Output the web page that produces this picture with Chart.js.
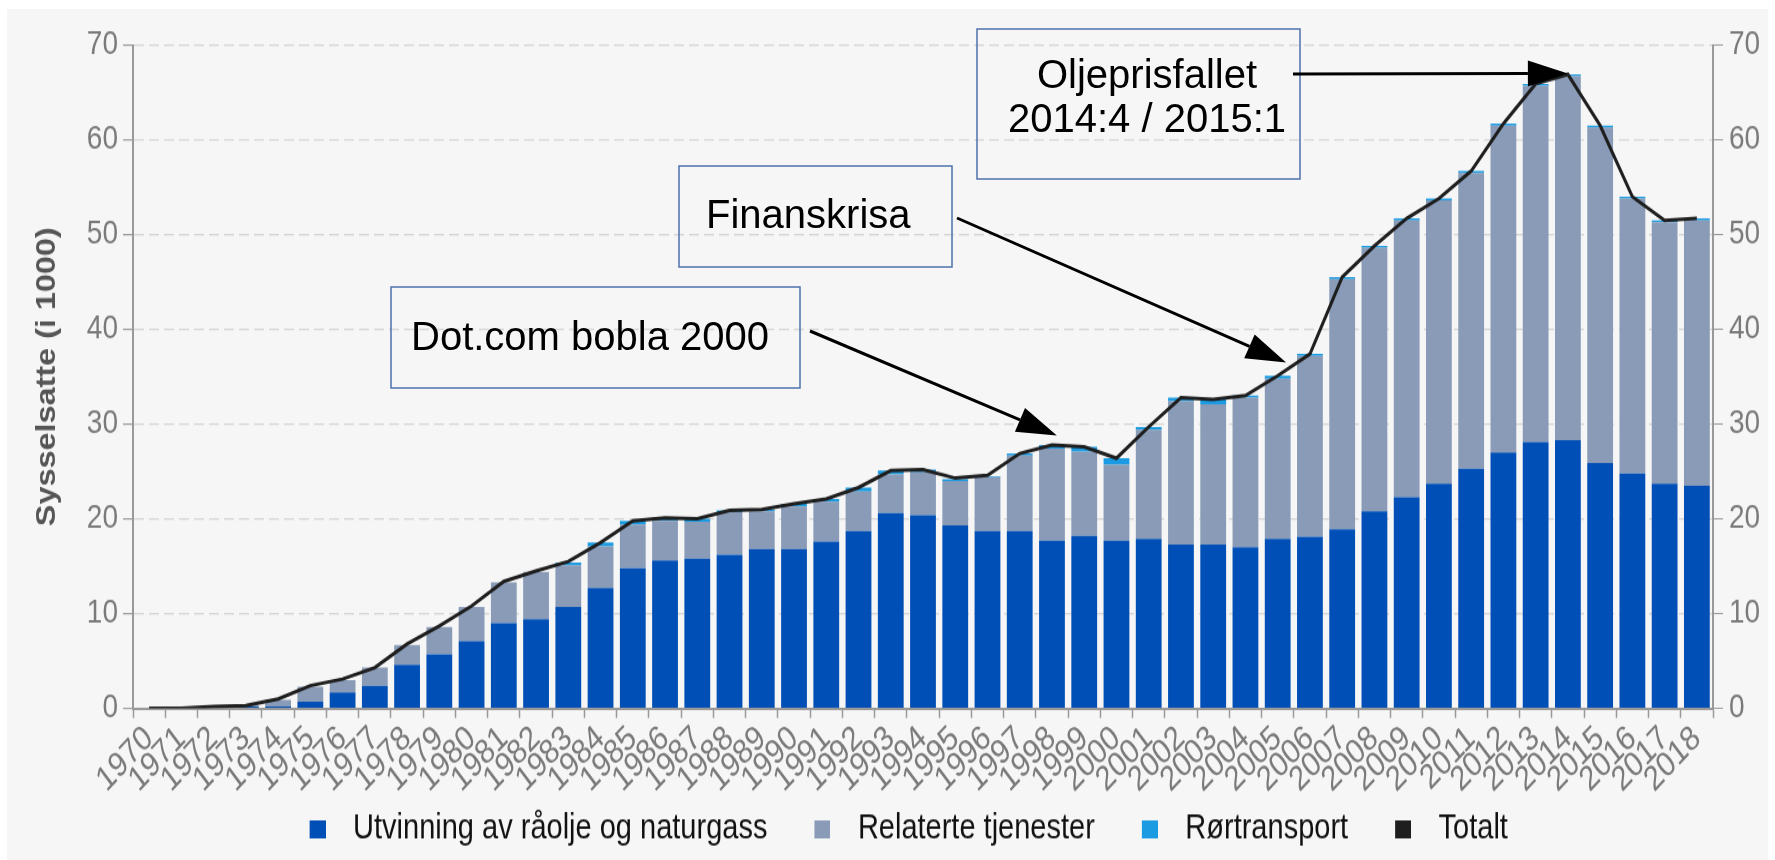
<!DOCTYPE html>
<html>
<head>
<meta charset="utf-8">
<script src="https://cdn.jsdelivr.net/npm/chart.js@4"></script>
<style>
  html, body { margin: 0; padding: 0; background: #fff; }
  #card { position: absolute; left: 7px; top: 9px; width: 1761px; height: 851px; background: #f6f6f6; }
  #chart_sysselsatte { position: absolute; left: 0; top: 0; width: 1775px !important; height: 860px !important; }
  #notes_layer { position: absolute; left: 0; top: 0; width: 1775px; height: 860px; pointer-events: none; }
</style>
</head>
<body>
<div id="card"></div>
<!-- grafen tegnes lavere og strekkes i høyden, som i originalbildet -->
<canvas id="chart_sysselsatte" width="1775" height="717"></canvas>
<canvas id="notes_layer" width="1775" height="860"></canvas>
<script>
const STRETCH = 860 / 717;

const years = [];
for (let y = 1970; y <= 2018; y++) years.push(String(y));

// sysselsatte i 1000
const utvinning = [0, 0, 0.2, 0.2, 0.2, 0.7, 1.7, 2.4, 4.6, 5.7, 7.1, 9.0, 9.4, 10.7, 12.7, 14.8, 15.6, 15.8, 16.2, 16.8,
  16.8, 17.6, 18.7, 20.6, 20.4, 19.3, 18.7, 18.7, 17.7, 18.2, 17.7, 17.9, 17.3, 17.3, 17.0, 17.9, 18.1, 18.9, 20.8, 22.3,
  23.7, 25.3, 27.0, 28.1, 28.3, 25.9, 24.8, 23.7, 23.5];
const relaterte = [0, 0, 0, 0.1, 0.7, 1.6, 1.3, 1.9, 2.1, 2.9, 3.6, 4.3, 5.0, 4.4, 4.4, 4.6, 4.2, 3.9, 4.5, 4.0,
  4.5, 4.2, 4.2, 4.1, 4.5, 4.7, 5.7, 8.0, 9.7, 8.9, 8.0, 11.5, 15.1, 14.8, 15.8, 16.9, 19.1, 26.4, 27.8, 29.2,
  29.9, 31.2, 34.5, 37.6, 38.4, 35.4, 29.0, 27.6, 28.0];
const roertransport = [0, 0, 0, 0, 0, 0, 0, 0, 0, 0, 0, 0, 0, 0.3, 0.4, 0.4, 0.3, 0.3, 0.2, 0.2,
  0.3, 0.3, 0.4, 0.4, 0.3, 0.2, 0.1, 0.2, 0.4, 0.5, 0.7, 0.3, 0.4, 0.5, 0.2, 0.3, 0.2, 0.2, 0.2, 0.2,
  0.2, 0.2, 0.2, 0.2, 0.2, 0.2, 0.2, 0.2, 0.2];
const totalt = [0, 0, 0.2, 0.3, 1.0, 2.4, 3.1, 4.3, 6.8, 8.7, 10.8, 13.4, 14.5, 15.5, 17.5, 19.8, 20.1, 20.0, 20.9, 21.0,
  21.6, 22.1, 23.3, 25.1, 25.2, 24.3, 24.6, 26.9, 27.8, 27.6, 26.4, 29.7, 32.8, 32.6, 33.0, 35.1, 37.4, 45.5, 48.8, 51.7,
  53.8, 56.7, 61.7, 65.9, 66.9, 61.5, 54.0, 51.5, 51.7];

const yTicks = [0, 10, 20, 30, 40, 50, 60, 70];

const FONT = "'Liberation Sans', Arial, sans-serif";

// tekstbokser med piler, pila peker på (kategori-indeks, verdi)
const notes = [
  { lines: ["Dot.com bobla 2000"], box: [391, 287, 800, 388], textX: 411, baselines: [350], align: "left",
    from: [810, 331], to: [28.15, 28.8] },
  { lines: ["Finanskrisa"], box: [679, 166, 952, 267], textX: 706, baselines: [228], align: "left",
    from: [957, 218], to: [35.26, 36.5] },
  { lines: ["Oljeprisfallet", "2014:4 / 2015:1"], box: [977, 29, 1300, 179], textX: 1147, baselines: [88, 132], align: "center",
    from: [1293, 74], to: [44, 67.0] },
];

// legend-ruter: liten flate med ruta helt til høyre
function legendSwatch(color) {
  const c = document.createElement("canvas");
  c.width = 44;
  c.height = 15;
  const g = c.getContext("2d");
  g.fillStyle = color;
  g.fillRect(28, 0, 16, 15);
  return c;
}

const notesPlugin = {
  id: "notes",
  afterDraw(chart) {
    const ctx = document.getElementById("notes_layer").getContext("2d");
    const xs = chart.scales.x;
    const ys = chart.scales.y;
    const step = xs.getPixelForValue(1) - xs.getPixelForValue(0);
    ctx.clearRect(0, 0, 1775, 860);
    notes.forEach((n) => {
      ctx.strokeStyle = "#4f72ad";
      ctx.lineWidth = 1.5;
      ctx.strokeRect(n.box[0], n.box[1], n.box[2] - n.box[0], n.box[3] - n.box[1]);
      ctx.fillStyle = "#000";
      ctx.font = "40px " + FONT;
      ctx.textAlign = n.align;
      ctx.textBaseline = "alphabetic";
      n.lines.forEach((t, i) => ctx.fillText(t, n.textX, n.baselines[i]));

      const tx = xs.getPixelForValue(0) + n.to[0] * step;
      const ty = ys.getPixelForValue(n.to[1]) * STRETCH;
      const ang = Math.atan2(ty - n.from[1], tx - n.from[0]);
      const len = 40, half = 13;
      const bx = tx - Math.cos(ang) * len;
      const by = ty - Math.sin(ang) * len;
      ctx.strokeStyle = "#000";
      ctx.lineWidth = 3;
      ctx.beginPath();
      ctx.moveTo(n.from[0], n.from[1]);
      ctx.lineTo(bx, by);
      ctx.stroke();
      ctx.fillStyle = "#000";
      ctx.beginPath();
      ctx.moveTo(tx, ty);
      ctx.lineTo(bx + Math.sin(ang) * half, by - Math.cos(ang) * half);
      ctx.lineTo(bx - Math.sin(ang) * half, by + Math.cos(ang) * half);
      ctx.closePath();
      ctx.fill();
    });
  },
};

var ctx = document.getElementById("chart_sysselsatte").getContext("2d");

var myChart = new Chart(ctx, {
  type: "bar",
  data: {
    labels: years,
    datasets: [
      {
        label: "Utvinning av råolje og naturgass",
        data: utvinning,
        backgroundColor: "#004fb6",
        pointStyle: legendSwatch("#004fb6"),
        barPercentage: 0.8,
        categoryPercentage: 1,
        order: 1,
      },
      {
        label: "Relaterte tjenester",
        data: relaterte,
        backgroundColor: "#8a9bb7",
        pointStyle: legendSwatch("#8a9bb7"),
        barPercentage: 0.8,
        categoryPercentage: 1,
        order: 1,
      },
      {
        label: "Rørtransport",
        data: roertransport,
        backgroundColor: "#1b9ce2",
        pointStyle: legendSwatch("#1b9ce2"),
        barPercentage: 0.8,
        categoryPercentage: 1,
        order: 1,
      },
      {
        type: "line",
        label: "Totalt",
        data: totalt,
        yAxisID: "y2",
        borderColor: "#1e1e1e",
        backgroundColor: "#1e1e1e",
        pointStyle: legendSwatch("#1e1e1e"),
        borderWidth: 3,
        pointRadius: 0,
        tension: 0,
        order: 0,
      },
    ],
  },
  plugins: [notesPlugin],
  options: {
    responsive: false,
    animation: false,
    devicePixelRatio: 1,
    layout: {
      padding: { left: 10, right: 8.5, top: 37.5, bottom: 1.2 },
    },
    plugins: {
      tooltip: { enabled: false },
      legend: {
        display: true,
        position: "bottom",
        labels: {
          sort: (a, b) => a.datasetIndex - b.datasetIndex,
          usePointStyle: true,
          pointStyleWidth: 70,
          boxHeight: 15,
          padding: 6,
          color: "#111",
          font: { family: FONT, size: 29 },
        },
      },
    },
    scales: {
      x: {
        stacked: true,
        grid: {
          display: true,
          drawOnChartArea: false,
          offset: true,
          tickLength: 8,
          tickColor: "#999",
          tickWidth: 1.5,
        },
        border: { color: "#999", width: 2 },
        ticks: {
          color: "#7a7a7a",
          font: { family: FONT, size: 29 },
          minRotation: 42,
          maxRotation: 42,
          autoSkip: false,
          padding: 0,
        },
        afterFit(scale) {
          scale.height = 80.2;
        },
      },
      y: {
        stacked: true,
        min: 0,
        max: 70,
        afterBuildTicks(scale) {
          scale.ticks = yTicks.map((v) => ({ value: v }));
        },
        grid: {
          color: "#d4d4d4",
          lineWidth: 1.2,
          tickColor: "#999",
          tickLength: 10,
          tickBorderDash: [],
        },
        border: { display: true, color: "#999", width: 2, dash: [10, 5] },
        ticks: {
          color: "#7a7a7a",
          font: { family: FONT, size: 28 },
          padding: 5,
        },
        title: {
          display: true,
          text: "Sysselsatte (i 1000)",
          color: "#555",
          font: { family: FONT, size: 27, weight: "bold" },
          padding: { top: 21.5, bottom: 0 },
        },
        afterFit(scale) {
          scale.width = 123;
        },
      },
      y2: {
        position: "right",
        min: 0,
        max: 70,
        afterBuildTicks(scale) {
          scale.ticks = yTicks.map((v) => ({ value: v }));
        },
        grid: {
          drawOnChartArea: false,
          tickColor: "#999",
          tickLength: 10,
        },
        border: { display: true, color: "#999", width: 2 },
        ticks: {
          color: "#7a7a7a",
          font: { family: FONT, size: 28 },
          padding: 6,
        },
        afterFit(scale) {
          scale.width = 53.5;
        },
      },
    },
  },
});
</script>
</body>
</html>
